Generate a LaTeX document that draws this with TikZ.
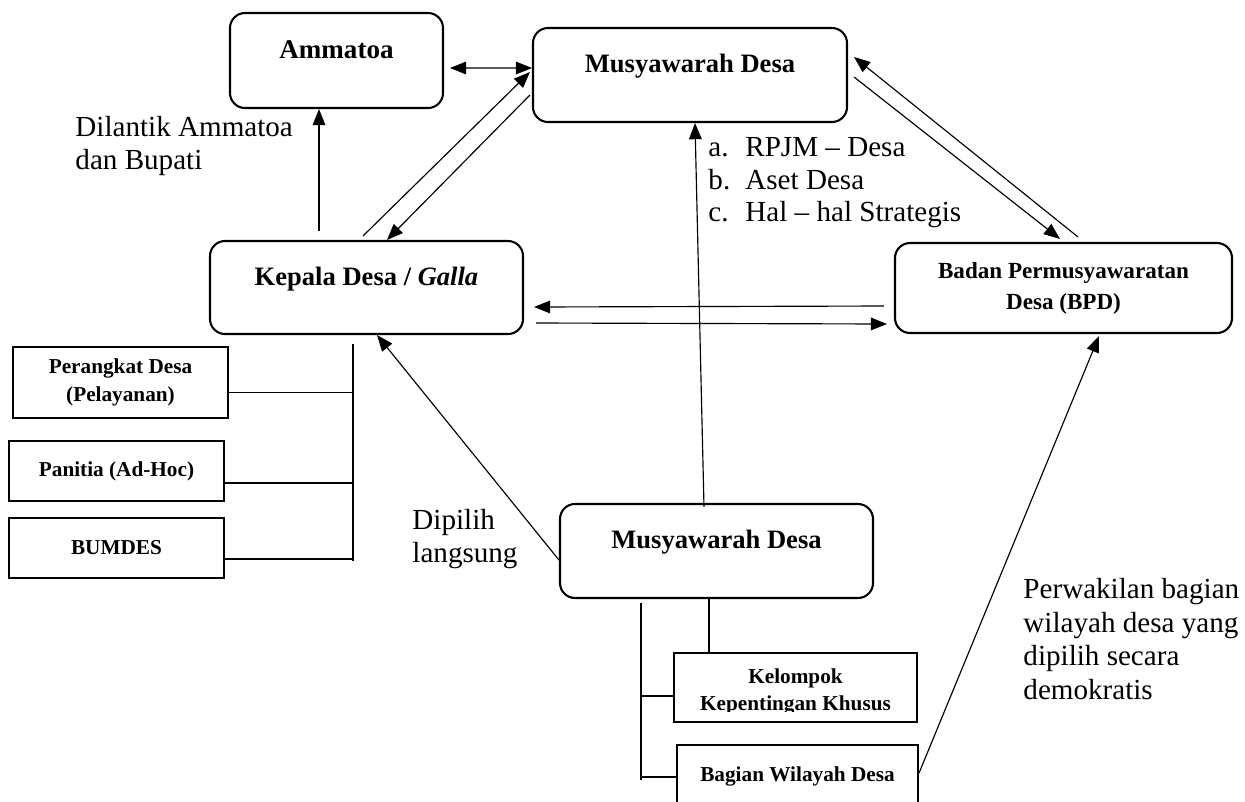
\documentclass[tikz,border=0pt]{standalone}
\usepackage{fontspec}
\setmainfont{Liberation Serif}
\usetikzlibrary{arrows.meta}

\def\pxu{0.433pt}

\begin{document}
\begin{tikzpicture}[x=0.433pt,y=-0.433pt,
	rbox/.style={draw,line width=0.9pt,rounded corners=6.5pt,font=\fontsize{11.5}{13}\selectfont\bfseries},
	toptext/.style={text height=8pt,text depth=10pt},
	sbox/.style={draw,line width=0.9pt,align=center,font=\fontsize{9.2}{12.4}\selectfont\bfseries},
	note/.style={align=left,anchor=west,inner sep=0pt,font=\fontsize{12.6}{14.6}\selectfont},
	link/.style={line width=0.5pt},
	tip/.style={-{Triangle[length=7pt,width=5.5pt]}},
	arr/.style={link,tip}]

	%\draw[help lines] (0,0) grid[step=100] (1245,801);
	\clip (0,0) rectangle (1245,801);
	\fill[white] (0,0) rectangle (1245,801);

	% top row
	\node[rbox,toptext,minimum width=213*\pxu,minimum height=95*\pxu,font=\fontsize{11.7}{13}\selectfont\bfseries] (ammatoa) at (336.5,60.5) {Ammatoa};
	\node[rbox,toptext,minimum width=314*\pxu,minimum height=94*\pxu] (musyTop) at (690,75) {Musyawarah Desa};

	% middle row
	\node[rbox,toptext,minimum width=313*\pxu,minimum height=93*\pxu] (kepala) at (366.5,287.5) {Kepala Desa / \textit{Galla}};
	\node[rbox,align=center,minimum width=337*\pxu,minimum height=90*\pxu,font=\fontsize{10}{13.4}\selectfont\bfseries] (bpd) at (1063.5,288) {Badan Permusyawaratan\\Desa (BPD)};

	% bottom
	\node[rbox,toptext,minimum width=313*\pxu,minimum height=94*\pxu] (musyBot) at (716.5,551) {Musyawarah Desa};

	\node[sbox,minimum width=215*\pxu,minimum height=71*\pxu] (perangkat) at (120.5,382.5) {Perangkat Desa\\(Pelayanan)};
	\node[sbox,minimum width=215*\pxu,minimum height=60*\pxu] (panitia) at (116.5,471) {Panitia (Ad-Hoc)};
	\node[sbox,minimum width=215*\pxu,minimum height=60*\pxu] (bumdes) at (116.5,548) {BUMDES};

	\node[sbox,minimum width=243*\pxu,minimum height=69*\pxu] (kelompok) at (795.5,687.5) {};
	\begin{scope}
		\clip (674,653) rectangle (917,711);
		\node[sbox,draw=none,font=\fontsize{9.2}{11.7}\selectfont\bfseries] (kelompokText) at (795.5,692) {Kelompok\\Kepentingan Khusus};
	\end{scope}
	\node[sbox,minimum width=241*\pxu,minimum height=62*\pxu] (bagian) at (797.5,776) {Bagian Wilayah Desa};

	% texts
	\node[note] (dilantik) at (75,146) {Dilantik Ammatoa\\dan Bupati};
	\node[note,font=\fontsize{12.6}{14.1}\selectfont] (hal) at (708,183) {\makebox[16pt][l]{a.}RPJM -- Desa\\\makebox[16pt][l]{b.}Aset Desa\\\makebox[16pt][l]{c.}Hal -- hal Strategis};
	\node[note] (dipilih) at (412,539) {Dipilih\\langsung};
	\node[note] (perwakilan) at (1023,639) {Perwakilan bagian\\wilayah desa yang\\dipilih secara\\demokratis};

	% arrows
	\draw[link,{Triangle[length=7pt,width=5.5pt]}-{Triangle[length=7pt,width=5.5pt]}] ([shift={(6,7.5)}]ammatoa.east) -- ([shift={(0,-7)}]musyTop.west);
	\draw[arr] ([shift={(-47.5,-9)}]kepala.north) -- ([shift={(-17.5,0)}]ammatoa.south);
	\draw[arr] ([shift={(-3.5,-4)}]kepala.north) -- ([shift={(-2,-3)}]musyTop.west);
	\draw[arr] ([shift={(-2,20)}]musyTop.west) -- ([shift={(20.5,0)}]kepala.north);
	\draw[arr] ([shift={(6,2)}]musyTop.east) -- ([shift={(-3.5,-3)}]bpd.north);
	\draw[arr] ([shift={(14.5,-5)}]bpd.north) -- ([shift={(6,-18)}]musyTop.east);
	\draw[arr] ([shift={(-10,18)}]bpd.west) -- ([shift={(10,19.5)}]kepala.east);
	\draw[arr] ([shift={(12,35.5)}]kepala.east) -- ([shift={(-7,36)}]bpd.west);
	\draw[arr] ([shift={(-12.5,4)}]musyBot.north) -- ([shift={(5,0)}]musyTop.south);
	\draw[arr] ([shift={(0,9)}]musyBot.west) -- ([shift={(10.5,0)}]kepala.south);
	\draw[arr] ([shift={(0,-3)}]bagian.east) -- ([shift={(35.5,2)}]bpd.south);

	% lines under kepala desa
	\coordinate (kTop) at ([shift={(-13.5,9)}]kepala.south);
	\coordinate (kBot) at ([shift={(-13.5,226)}]kepala.south);
	\draw[link] (kTop) -- (kBot);
	\foreach \nm/\dy in {perangkat/10,panitia/12,bumdes/11} {
		\coordinate (p) at ([shift={(0,\dy)}]\nm.east);
		\draw[link] (p) -- (p -| kTop);
	}

	% lines under musyawarah desa
	\coordinate (mTop) at ([shift={(-75.5,4)}]musyBot.south);
	\coordinate (mBot) at ([shift={(-75.5,181)}]musyBot.south);
	\draw[link] (mTop) -- (mBot);
	\foreach \nm/\dy in {kelompok/8.5,bagian/1} {
		\coordinate (q) at ([shift={(0,\dy)}]\nm.west);
		\draw[link] (q) -- (q -| mTop);
	}
	\coordinate (r) at ([shift={(-7.5,0)}]musyBot.south);
	\draw[link] (r) -- (r |- kelompok.north);

\end{tikzpicture}
\end{document}
